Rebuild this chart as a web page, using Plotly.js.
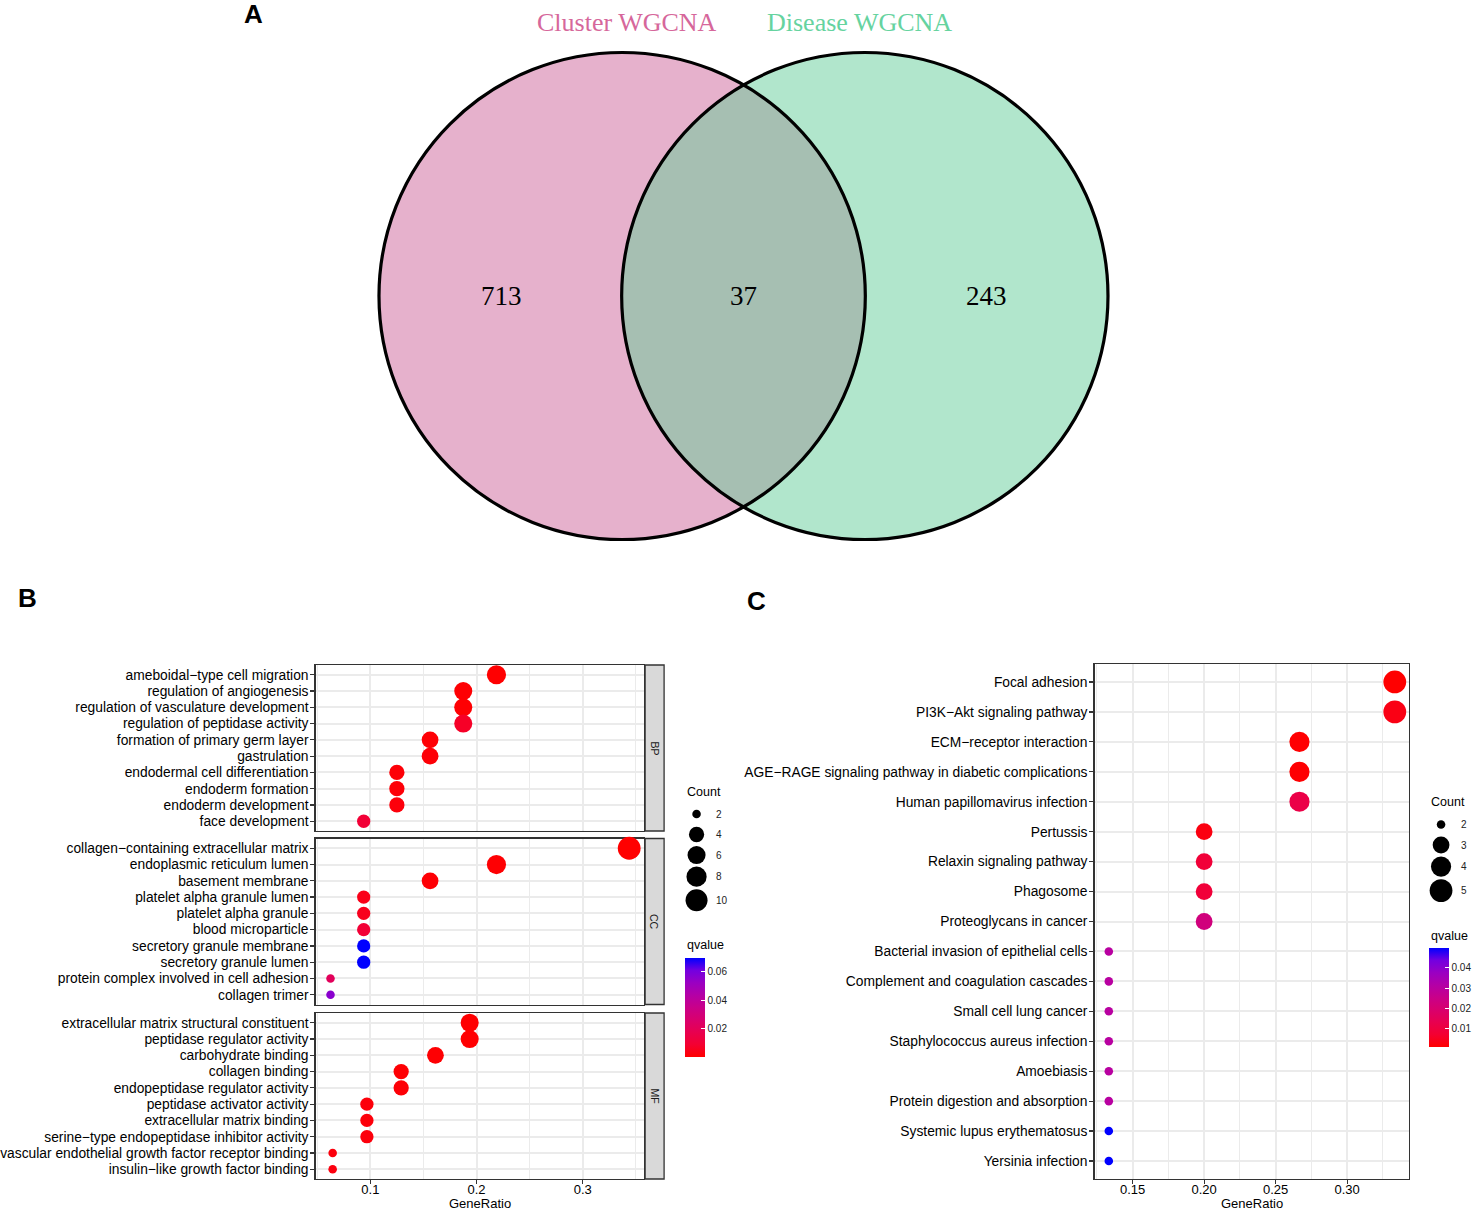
<!DOCTYPE html>
<html><head><meta charset="utf-8">
<script src="https://cdn.plot.ly/plotly-3.0.1.min.js"></script>
<style>html,body{margin:0;padding:0;background:#fff}#chart{width:1476px;height:1212px}</style>
</head><body><div id="chart"></div>
<script>
// ================= DATA =================
const vennSets = ["Cluster WGCNA", "Disease WGCNA"];
const vennCounts = [713, 37, 243]; // left only, shared, right only

const bpTerms = ["ameboidal\u2212type cell migration","regulation of angiogenesis","regulation of vasculature development","regulation of peptidase activity","formation of primary germ layer","gastrulation","endodermal cell differentiation","endoderm formation","endoderm development","face development"];
const bpRatio = ["7/32","6/32","6/32","6/32","5/32","5/32","4/32","4/32","4/32","3/32"];
const bpCount = [7,6,6,6,5,5,4,4,4,3];
const bpQ = [0.0005,0.0008,0.0008,0.0073,0.0012,0.0015,0.0015,0.0018,0.0022,0.0105];

const ccTerms = ["collagen\u2212containing extracellular matrix","endoplasmic reticulum lumen","basement membrane","platelet alpha granule lumen","platelet alpha granule","blood microparticle","secretory granule membrane","secretory granule lumen","protein complex involved in cell adhesion","collagen trimer"];
const ccRatio = ["11/32","7/32","5/32","3/32","3/32","3/32","3/32","3/32","2/32","2/32"];
const ccCount = [11,7,5,3,3,3,3,3,2,2];
const ccQ = [0.0003,0.0009,0.0012,0.0045,0.0055,0.0105,0.0698,0.0698,0.021,0.056];

const mfTerms = ["extracellular matrix structural constituent","peptidase regulator activity","carbohydrate binding","collagen binding","endopeptidase regulator activity","peptidase activator activity","extracellular matrix binding","serine\u2212type endopeptidase inhibitor activity","vascular endothelial growth factor receptor binding","insulin\u2212like growth factor binding"];
const mfRatio = ["6/31","6/31","5/31","4/31","4/31","3/31","3/31","3/31","2/31","2/31"];
const mfCount = [6,6,5,4,4,3,3,3,2,2];
const mfQ = [0.0004,0.0006,0.0009,0.001,0.0015,0.002,0.002,0.0025,0.0025,0.003];

const goFacets = ["BP","CC","MF"];
const goCountBreaks = [2,4,6,8,10];
const goQBreaks = [0.02,0.04,0.06];

const keggTerms = ["Focal adhesion","PI3K\u2212Akt signaling pathway","ECM\u2212receptor interaction","AGE\u2212RAGE signaling pathway in diabetic complications","Human papillomavirus infection","Pertussis","Relaxin signaling pathway","Phagosome","Proteoglycans in cancer","Bacterial invasion of epithelial cells","Complement and coagulation cascades","Small cell lung cancer","Staphylococcus aureus infection","Amoebiasis","Protein digestion and absorption","Systemic lupus erythematosus","Yersinia infection"];
const keggRatio = ["5/15","5/15","4/15","4/15","4/15","3/15","3/15","3/15","3/15","2/15","2/15","2/15","2/15","2/15","2/15","2/15","2/15"];
const keggCount = [5,5,4,4,4,3,3,3,3,2,2,2,2,2,2,2,2];
const keggQ = [0.001,0.0035,0.0012,0.0013,0.0115,0.003,0.0085,0.0088,0.0225,0.0302,0.0302,0.0302,0.0302,0.0302,0.0302,0.0497,0.0497];
const keggCountBreaks = [2,3,4,5];
const keggQBreaks = [0.01,0.02,0.03,0.04];

const xTitle = "GeneRatio";
const sizeLegendTitle = "Count";
const colorLegendTitle = "qvalue";
const panelLetters = ["A","B","C"];

// ================= HELPERS =================
const W = 1476, H = 1212;
const px = v => v / W;
const py = v => 1 - v / H;
const ratio = s => { const p = s.split('/').map(Number); return p[0] / p[1]; };
const FONT = "Liberation Sans, Arial, Helvetica, sans-serif";
const SERIF = "Liberation Serif, Times New Roman, serif";
const GRID = "#EBEBEB";
const LINE = "#333333";

// ggplot-like (Lab interpolated) red -> blue gradient
const colorscale = [[0,"#FF0000"],[0.125,"#F40031"],[0.25,"#E8004F"],[0.375,"#D9006D"],[0.5,"#C90089"],[0.625,"#B400A6"],[0.75,"#9A00C2"],[0.875,"#7300E0"],[1,"#0000FF"]];

function sizeScale(counts) {
  const mn = Math.min(...counts), mx = Math.max(...counts);
  return c => 2.85 * (3 + 5 * Math.sqrt((c - mn) / (mx - mn)));
}
function expandRange(vals) {
  const mn = Math.min(...vals), mx = Math.max(...vals), s = mx - mn;
  return [mn - 0.05 * s, mx + 0.05 * s];
}
function legendCenters(diams, start) {
  const h = diams.map(d => Math.max(20.5, d + 2.5));
  const out = [start];
  for (let i = 1; i < diams.length; i++) out.push(out[i - 1] + (h[i - 1] + h[i]) / 2);
  return out;
}

const goCounts = bpCount.concat(ccCount, mfCount);
const goQs = bpQ.concat(ccQ, mfQ);
const goSize = sizeScale(goCounts);
const keggSize = sizeScale(keggCount);
const goRange = expandRange(bpRatio.concat(ccRatio, mfRatio).map(ratio));
const keggRange = expandRange(keggRatio.map(ratio));

// ================= TRACES =================
const traces = [];
const facetData = [
  [bpTerms, bpRatio, bpCount, bpQ],
  [ccTerms, ccRatio, ccCount, ccQ],
  [mfTerms, mfRatio, mfCount, mfQ]
];
facetData.forEach((f, i) => {
  const sfx = i === 0 ? "" : String(i + 1);
  traces.push({
    type: "scatter", mode: "markers", x: f[1].map(ratio), y: f[0],
    xaxis: "x" + sfx, yaxis: "y" + sfx, showlegend: false, cliponaxis: false,
    marker: { size: f[2].map(goSize), color: f[3], coloraxis: "coloraxis", line: { width: 0 }, opacity: 1 }
  });
});
traces.push({
  type: "scatter", mode: "markers", x: keggRatio.map(ratio), y: keggTerms,
  xaxis: "x4", yaxis: "y4", showlegend: false, cliponaxis: false,
  marker: { size: keggCount.map(keggSize), color: keggQ, coloraxis: "coloraxis2", line: { width: 0 }, opacity: 1 }
});

// size legends
const goLegD = goCountBreaks.map(goSize);
const goLegY = legendCenters(goLegD, 814);
const keggLegD = keggCountBreaks.map(keggSize);
const keggLegY = legendCenters(keggLegD, 824.5);
traces.push({ type: "scatter", mode: "markers", x: goCountBreaks.map(() => 697.5), y: goLegY, xaxis: "x5", yaxis: "y5",
  showlegend: false, cliponaxis: false, marker: { size: goLegD, color: "#000", line: { width: 0 }, opacity: 1 } });
traces.push({ type: "scatter", mode: "markers", x: keggCountBreaks.map(() => 1443), y: keggLegY, xaxis: "x6", yaxis: "y6",
  showlegend: false, cliponaxis: false, marker: { size: keggLegD, color: "#000", line: { width: 0 }, opacity: 1 } });

// ================= AXES =================
function xAxis(domain, range, dtick, fmt, show, anchor) {
  return {
    domain, range, anchor, tick0: 0, dtick, tickformat: fmt,
    showgrid: true, gridcolor: GRID, gridwidth: 2,
    minor: { tick0: 0, dtick: dtick / 2, showgrid: true, gridcolor: GRID, gridwidth: 1, ticks: "" },
    zeroline: false, showline: true, mirror: true, linecolor: LINE, linewidth: 1.3,
    ticks: show ? "outside" : "", ticklen: 4, tickwidth: 1.2, tickcolor: LINE,
    showticklabels: show, tickfont: { family: FONT, size: 13, color: "#000" },
    ticklabelstandoff: -6,
    fixedrange: true, automargin: false, layer: "below traces"
  };
}
function yAxis(domain, terms, anchor) {
  return {
    domain, anchor, type: "category", categoryorder: "array", categoryarray: terms,
    range: [terms.length - 0.4, -0.6],
    tickmode: "array", tickvals: terms, ticktext: terms,
    showgrid: true, gridcolor: GRID, gridwidth: 2, zeroline: false,
    showline: true, mirror: true, linecolor: LINE, linewidth: 1.3,
    ticks: "outside", ticklen: 4, tickwidth: 1.2, tickcolor: LINE,
    tickfont: { family: FONT, size: 13.8, color: "#000" },
    ticklabelstandoff: -1,
    fixedrange: true, automargin: false, layer: "below traces"
  };
}
function hiddenAxis(domain, range, anchor) {
  return { domain, range, anchor, visible: false, showgrid: false, zeroline: false, fixedrange: true };
}

const goXDom = [px(316), px(645)];
const keggXDom = [px(1096), px(1411)];
const facetY = [[665, 831], [838.5, 1004.5], [1013, 1179]];

function colorbar(xPix, yTopPix, breaks) {
  return {
    x: px(xPix), xanchor: "left", y: py(yTopPix), yanchor: "top",
    len: 99, lenmode: "pixels", thickness: 20, thicknessmode: "pixels",
    outlinewidth: 0, xpad: 0, ypad: 0,
    tickmode: "array", tickvals: breaks, ticktext: breaks.map(v => v.toFixed(2)),
    ticks: "inside", ticklen: 4, tickwidth: 1, tickcolor: "#fff",
    tickfont: { family: FONT, size: 10, color: "#222" }
  };
}

const layout = {
  width: W, height: H, margin: { l: 0, r: 0, t: 0, b: 0, pad: 0 },
  paper_bgcolor: "#fff", plot_bgcolor: "#fff",
  font: { family: FONT, color: "#000" },
  showlegend: false,
  xaxis: xAxis(goXDom, goRange, 0.1, ".1f", false, "y"),
  yaxis: yAxis([py(facetY[0][1]), py(facetY[0][0])], bpTerms, "x"),
  xaxis2: xAxis(goXDom, goRange, 0.1, ".1f", false, "y2"),
  yaxis2: yAxis([py(facetY[1][1]), py(facetY[1][0])], ccTerms, "x2"),
  xaxis3: xAxis(goXDom, goRange, 0.1, ".1f", true, "y3"),
  yaxis3: yAxis([py(facetY[2][1]), py(facetY[2][0])], mfTerms, "x3"),
  xaxis4: xAxis(keggXDom, keggRange, 0.05, ".2f", true, "y4"),
  yaxis4: yAxis([py(1179), py(664)], keggTerms, "x4"),
  xaxis5: hiddenAxis([px(680), px(740)], [680, 740], "y5"),
  yaxis5: hiddenAxis([py(915), py(800)], [915, 800], "x5"),
  xaxis6: hiddenAxis([px(1425), px(1476)], [1425, 1476], "y6"),
  yaxis6: hiddenAxis([py(906), py(810)], [906, 810], "x6"),
  coloraxis: { colorscale, cmin: Math.min(...goQs), cmax: Math.max(...goQs), colorbar: colorbar(686, 958, goQBreaks) },
  coloraxis2: { colorscale, cmin: Math.min(...keggQ), cmax: Math.max(...keggQ), colorbar: colorbar(1431, 948, keggQBreaks) },
  shapes: [],
  annotations: []
};

// ---- Venn geometry ----
const vL = { cx: 623, cy: 296, r: 243.5 }, vR = { cx: 866, cy: 296, r: 243.5 };
function circleShape(c, fill, line) {
  return { type: "circle", xref: "paper", yref: "paper",
    x0: px(c.cx - c.r), x1: px(c.cx + c.r), y0: py(c.cy + c.r), y1: py(c.cy - c.r),
    fillcolor: fill, line: line };
}
layout.shapes.push(circleShape(vL, "#E6B1CC", { width: 0 }));
layout.shapes.push(circleShape(vR, "#B1E6CC", { width: 0 }));
(function () {
  const d = vR.cx - vL.cx, a = d / 2, h = Math.sqrt(vL.r * vL.r - a * a);
  const angL = Math.atan2(h, a), angR = Math.atan2(h, -a);
  const pts = [];
  const N = 80;
  for (let i = 0; i <= N; i++) { const t = -angL + 2 * angL * i / N; pts.push([vL.cx + vL.r * Math.cos(t), vL.cy + vL.r * Math.sin(t)]); }
  for (let i = 0; i <= N; i++) { const t = angR + (2 * Math.PI - 2 * angR) * i / N; pts.push([vR.cx + vR.r * Math.cos(t), vR.cy + vR.r * Math.sin(t)]); }
  const path = pts.map((p, i) => (i ? "L" : "M") + px(p[0]).toFixed(6) + "," + py(p[1]).toFixed(6)).join(" ") + " Z";
  layout.shapes.push({ type: "path", xref: "paper", yref: "paper", path, fillcolor: "#A6BFB2", line: { width: 0 } });
})();
layout.shapes.push(circleShape(vL, "rgba(0,0,0,0)", { color: "#000", width: 3.2 }));
layout.shapes.push(circleShape(vR, "rgba(0,0,0,0)", { color: "#000", width: 3.2 }));

// ---- strips ----
facetY.forEach((fy, i) => {
  layout.shapes.push({ type: "rect", xref: "paper", yref: "paper", x0: px(646), x1: px(665), y0: py(fy[1]), y1: py(fy[0]),
    fillcolor: "#D9D9D9", line: { color: LINE, width: 1.3 } });
  layout.annotations.push({ xref: "paper", yref: "paper", x: px(655.5), y: py((fy[0] + fy[1]) / 2), text: goFacets[i],
    textangle: 90, showarrow: false, font: { family: FONT, size: 10.5, color: "#1A1A1A" }, xanchor: "center", yanchor: "middle" });
});

// ---- axis titles ----
[(316 + 645) / 2, (1096 + 1411) / 2].forEach(xc => layout.annotations.push({ xref: "paper", yref: "paper",
  x: px(xc), y: 0, text: xTitle, showarrow: false, font: { family: FONT, size: 13, color: "#000" },
  xanchor: "center", yanchor: "bottom", borderpad: 0 }));

// ---- Venn text ----
const vennNumPos = [502, 745, 988];
vennCounts.forEach((v, i) => layout.annotations.push({ xref: "paper", yref: "paper", x: px(vennNumPos[i]), y: py(296), text: String(v),
  showarrow: false, font: { family: SERIF, size: 27, color: "#000" }, xanchor: "center", yanchor: "middle" }));
const vennTitlePos = [628, 861], vennTitleCol = ["#D6679B", "#66D39F"];
vennSets.forEach((s, i) => layout.annotations.push({ xref: "paper", yref: "paper", x: px(vennTitlePos[i]), y: py(22), text: s,
  showarrow: false, font: { family: SERIF, size: 26, color: vennTitleCol[i] }, xanchor: "center", yanchor: "middle" }));

// ---- panel letters ----
const letterPos = [[254, 14], [28, 598], [758, 601]];
panelLetters.forEach((l, i) => layout.annotations.push({ xref: "paper", yref: "paper", x: px(letterPos[i][0]), y: py(letterPos[i][1]),
  text: "<b>" + l + "</b>", showarrow: false, font: { family: FONT, size: 26, color: "#000" }, xanchor: "center", yanchor: "middle" }));

// ---- legend titles and labels ----
[[686, 792, sizeLegendTitle], [686, 945, colorLegendTitle], [1431, 802, sizeLegendTitle], [1431, 936, colorLegendTitle]].forEach(t =>
  layout.annotations.push({ xref: "paper", yref: "paper", x: px(t[0]), y: py(t[1]), text: t[2], showarrow: false,
    font: { family: FONT, size: 12.5, color: "#000" }, xanchor: "left", yanchor: "middle" }));
goCountBreaks.forEach((c, i) => layout.annotations.push({ xref: "x5", yref: "y5", x: 715, y: goLegY[i], text: String(c), showarrow: false,
  font: { family: FONT, size: 10, color: "#222" }, xanchor: "left", yanchor: "middle" }));
keggCountBreaks.forEach((c, i) => layout.annotations.push({ xref: "x6", yref: "y6", x: 1461, y: keggLegY[i], text: String(c), showarrow: false,
  font: { family: FONT, size: 10, color: "#222" }, xanchor: "left", yanchor: "middle" }));

Plotly.newPlot("chart", traces, layout, { staticPlot: true, displayModeBar: false });
</script>
</body></html>
